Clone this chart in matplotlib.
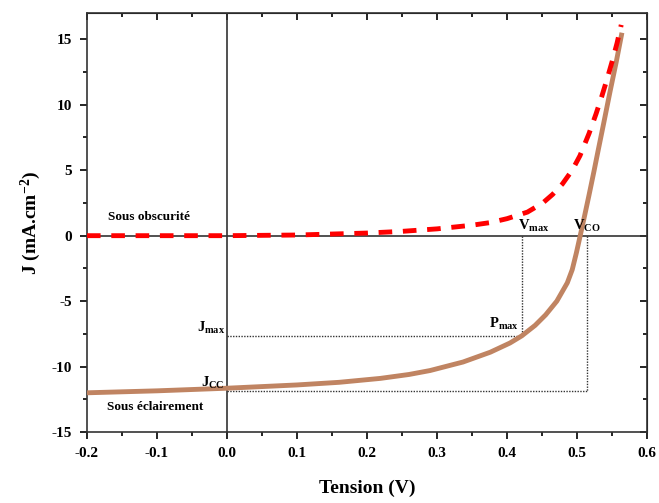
import numpy as np
import matplotlib.pyplot as plt

plt.rcParams['font.family'] = ['Liberation Serif', 'DejaVu Serif']
plt.rcParams['font.weight'] = 'bold'
plt.rcParams['axes.unicode_minus'] = False
plt.rcParams['mathtext.fontset'] = 'custom'
plt.rcParams['mathtext.rm'] = 'Liberation Serif:bold'
plt.rcParams['mathtext.it'] = 'Liberation Serif:bold'
plt.rcParams['mathtext.bf'] = 'Liberation Serif:bold'

# courbe sous obscurite
v_dark = [-0.2, -0.1, 0.0, 0.1, 0.2, 0.25, 0.3, 0.35, 0.376, 0.4, 0.429, 0.451, 0.465, 0.479,
          0.493, 0.504, 0.517, 0.527, 0.535, 0.543, 0.55, 0.557, 0.563]
j_dark = [0.0, 0.0, 0.0, 0.05, 0.2, 0.33, 0.52, 0.8, 1.0, 1.3, 1.8, 2.5, 3.15, 3.95,
          5.0, 6.1, 7.8, 9.3, 10.6, 12.0, 13.3, 14.7, 16.1]

# courbe sous eclairement
v_light = [-0.2, -0.1, 0.0, 0.1, 0.16, 0.219, 0.26, 0.29, 0.337, 0.376, 0.404, 0.421, 0.44,
           0.455, 0.471, 0.486, 0.493, 0.499, 0.504, 0.511, 0.517, 0.524, 0.53, 0.538,
           0.547, 0.556, 0.564]
j_light = [-12.0, -11.85, -11.65, -11.4, -11.2, -10.9, -10.6, -10.3, -9.65, -8.9, -8.2, -7.65, -6.85,
           -6.05, -5.0, -3.6, -2.6, -1.3, -0.1, 1.6, 3.1, 4.9, 6.5, 8.6,
           11.0, 13.3, 15.5]

v_max = 0.421
j_max = -7.65
v_co = 0.514
j_cc = -11.87

fig = plt.figure(figsize=(6.59, 5.03), dpi=100)
ax = fig.add_axes([0.132, 0.141, 0.85, 0.833])

ax.axhline(0, color='#333333', lw=1.2, zorder=1)
ax.axvline(0, color='#333333', lw=1.2, zorder=1)

# lignes pointillees
ax.plot([0, v_max], [j_max, j_max], ls=(0, (1, 1)), color='#333333', lw=1.0)
ax.plot([v_max, v_max], [0, j_max], ls=(0, (1, 1)), color='#333333', lw=1.0)
ax.plot([0, v_co], [j_cc, j_cc], ls=(0, (1, 1)), color='#333333', lw=1.0)
ax.plot([v_co, v_co], [0, j_cc], ls=(0, (1, 1)), color='#333333', lw=1.0)

ax.plot(v_light, j_light, color='#C08462', lw=3.5, solid_capstyle='butt',
        solid_joinstyle='round', zorder=3)
ax.plot(v_dark, j_dark, color='#FF0000', lw=3.5, ls=(0, (2.8, 2.2)),
        dash_joinstyle='round', zorder=4)

ax.set_xlim(-0.2, 0.6)
ax.set_ylim(-15, 17)
ax.set_xticks(np.arange(-0.2, 0.61, 0.1))
ax.set_xticks(np.arange(-0.15, 0.6, 0.1), minor=True)
ax.set_yticks(np.arange(-15, 16, 5))
ax.set_yticks(np.arange(-12.5, 16, 5), minor=True)
ax.set_xticklabels(['-0.2', '-0.1', '0.0', '0.1', '0.2', '0.3', '0.4', '0.5', '0.6'])
ax.tick_params(which='major', direction='out', length=5, width=1.2, labelsize=11, pad=6)
ax.tick_params(which='minor', direction='out', length=3, width=1.2)
for s in ax.spines.values():
    s.set_linewidth(1.2)
    s.set_color('#333333')

top = ax.secondary_xaxis('top')
top.set_xticks(np.arange(-0.2, 0.61, 0.1))
top.set_xticks(np.arange(-0.15, 0.6, 0.1), minor=True)
top.tick_params(which='major', direction='in', length=5, width=1.2, labeltop=False)
top.tick_params(which='minor', direction='in', length=3, width=1.2)
right = ax.secondary_yaxis('right')
right.set_yticks(np.arange(-15, 16, 5))
right.set_yticks(np.arange(-12.5, 16, 5), minor=True)
right.tick_params(which='major', direction='in', length=5, width=1.2, labelright=False)
right.tick_params(which='minor', direction='in', length=3, width=1.2)

ax.set_xlabel('Tension (V)', fontsize=14, fontweight='bold', labelpad=14)
ax.set_ylabel('J (mA.cm$^{-2}$)', fontsize=14, fontweight='bold', labelpad=6)

fs = 9.5
ax.text(-0.17, 1.0, 'Sous obscurité', fontsize=fs, ha='left', va='bottom')
ax.text(-0.172, -13.1, 'Sous éclairement', fontsize=fs, ha='left', va='center')
ax.text(-0.003, j_max, r'J$_{\mathrm{max}}$', fontsize=fs + 1, ha='right', va='bottom')
ax.text(-0.003, j_cc, r'J$_{\mathrm{CC}}$', fontsize=fs + 1, ha='right', va='bottom')
ax.text(v_max - 0.005, j_max + 0.3, r'P$_{\mathrm{max}}$', fontsize=fs + 1, ha='right', va='bottom')
ax.text(v_max - 0.006, 0.15, r'V$_{\mathrm{max}}$', fontsize=fs + 1, ha='left', va='bottom')
ax.text(v_co - 0.02, 0.15, r'V$_{\mathrm{CO}}$', fontsize=fs + 1, ha='left', va='bottom')

fig.savefig('out.png', dpi=100)
